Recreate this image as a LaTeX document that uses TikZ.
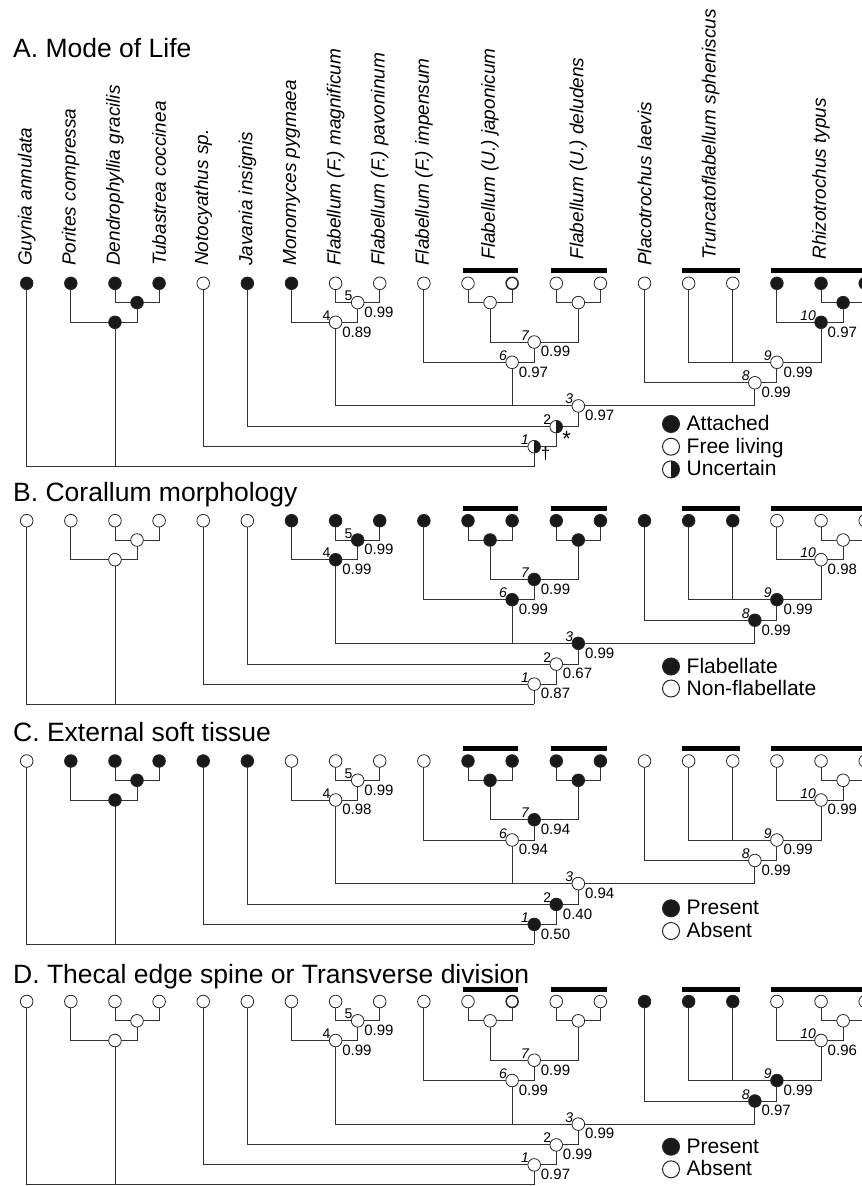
\documentclass[tikz,border=0pt]{standalone}
\usepackage{fontspec}
\setmainfont{Liberation Sans}
\tikzset{
  edge/.style={draw=black!80, line width=0.9pt},
  nd/.style={circle, inner sep=0pt, minimum size=12.6pt, line width=0.8pt, draw=black!85},
  stF/.style={nd, fill=black!90},
  stO/.style={nd, fill=white},
  stB/.style={nd, fill=white, line width=1.5pt, minimum size=12pt},
  stH/.style={nd, fill=white, path picture={\fill[black!90] (path picture bounding box.north) rectangle (path picture bounding box.south east);}},
  lgF/.style={stF, minimum size=17pt, line width=1pt},
  lgO/.style={stO, minimum size=17pt, line width=1pt},
  lgH/.style={stH, minimum size=17pt, line width=1pt},
  taxon/.style={rotate=90, anchor=west, inner sep=0pt, font=\fontsize{19}{19}\selectfont\itshape},
  ttl/.style={anchor=base west, inner sep=0pt, font=\fontsize{26.5}{26.5}\selectfont},
  val/.style={anchor=base west, inner sep=0pt, font=\fontsize{15}{15}\selectfont},
  num/.style={anchor=base east, inner sep=0pt, font=\fontsize{14}{14}\selectfont\itshape},
  numu/.style={anchor=base east, inner sep=0pt, font=\fontsize{14}{14}\selectfont},
  legtxt/.style={anchor=base west, inner sep=0pt, font=\fontsize{21}{21}\selectfont},
  sym/.style={anchor=base, inner sep=0pt, font=\fontsize{17}{17}\selectfont},
  bigsym/.style={anchor=base, inner sep=0pt, font=\fontsize{22}{22}\selectfont},
  grpbar/.style={line width=5pt, draw=black},
}
% tree geometry of one panel: #1 prefix, #2 tip y
\newcommand{\treepanel}[2]{%
  \foreach \i/\xx in {0/26.7,1/70.83,2/114.96,3/159.09,4/203.22,5/247.35,6/291.48,7/335.61,8/379.74,9/423.87,10/468.0,11/512.13,12/556.26,13/600.39,14/644.52,15/688.65,16/732.78,17/776.91,18/821.04,19/865.17}
    \coordinate (#1-t\i) at (\xx,#2);
  \coordinate (#1-nDT) at (137.03,{#2+19.3});
  \coordinate (#1-nPor) at (114.96,{#2+39});
  \coordinate (#1-n5) at (357.68,{#2+19.3});
  \coordinate (#1-n4) at (335.61,{#2+39});
  \coordinate (#1-nJ) at (490.07,{#2+19.3});
  \coordinate (#1-nD) at (578.33,{#2+19.3});
  \coordinate (#1-n7) at (534.2,{#2+58.7});
  \coordinate (#1-n6) at (512.13,{#2+79});
  \coordinate (#1-nR) at (843.1,{#2+19.3});
  \coordinate (#1-n10) at (821.04,{#2+39});
  \coordinate (#1-n9) at (776.91,{#2+79});
  \coordinate (#1-n8) at (754.85,{#2+99.5});
  \coordinate (#1-n3) at (578.33,{#2+122.6});
  \coordinate (#1-n2) at (556.26,{#2+143.4});
  \coordinate (#1-n1) at (534.2,{#2+163.4});
  \coordinate (#1-nroot) at (534.2,{#2+183.4});
  \foreach \a/\b in {t2/nDT,t3/nDT,t1/nPor,nDT/nPor,t7/n5,t8/n5,t6/n4,n5/n4,t10/nJ,t11/nJ,t12/nD,t13/nD,nJ/n7,nD/n7,t9/n6,n7/n6,t18/nR,t19/nR,t17/n10,nR/n10,t15/n9,t16/n9,n10/n9,t14/n8,n9/n8,n4/n3,n6/n3,n8/n3,t5/n2,n3/n2,t4/n1,n2/n1,t0/nroot,nPor/nroot,n1/nroot}
    \draw[edge] (#1-\a) |- (#1-\b);
  \coordinate (#1-b1l) at (462.5,{#2-12.5});
  \coordinate (#1-b1r) at (517.5,{#2-12.5});
  \coordinate (#1-b2l) at (551,{#2-12.5});
  \coordinate (#1-b2r) at (606.5,{#2-12.5});
  \coordinate (#1-b3l) at (682,{#2-12.5});
  \coordinate (#1-b3r) at (739.5,{#2-12.5});
  \coordinate (#1-b4l) at (771,{#2-12.5});
  \coordinate (#1-b4r) at (875,{#2-12.5});
  \foreach \k in {1,2,3,4} \draw[grpbar] (#1-b\k l) -- (#1-b\k r);
}
% states: #1 prefix, #2 tip styles, #3 internal name/style
\newcommand{\states}[3]{%
  \foreach \s [count=\i from 0] in {#2} \node[st\s] (#1-c\i) at (#1-t\i) {};
  \foreach \nm/\s in {#3} \node[st\s] (#1-c\nm) at (#1-n\nm) {};
  \foreach \nm/\sty in {1/num,2/numu,3/num,4/numu,5/numu,6/num,7/num,8/num,9/num,10/num}
    \path (#1-n\nm) ++(-5,-2) node[\sty] (#1-k\nm) {\nm};
}
\newcommand{\vals}[2]{%
  \foreach \nm/\v in {#2} \path (#1-n\nm) ++(6.5,14.8) node[val] (#1-v\nm) {\v};
}
\begin{document}
\begin{tikzpicture}[x=1pt,y=-1pt]
\useasboundingbox (0,0) rectangle (862,1186);
\clip (0,0) rectangle (862,1186);
\fill[white] (0,0) rectangle (862,1186);

% ---------- Panel A ----------
\node[ttl] (A-title) at (13,57) {A. Mode of Life};
\treepanel{A}{283.3}
\foreach \i/\nm in {0/Guynia annulata,1/Porites compressa,2/Dendrophyllia gracilis,3/Tubastrea coccinea,4/Notocyathus sp.,5/Javania insignis,6/Monomyces pygmaea,7/Flabellum (F.) magnificum,8/Flabellum (F.) pavoninum,9/Flabellum (F.) impensum,14/Placotrochus laevis}
  \path (A-t\i) ++(0,-17.3) node[taxon] (A-lab\i) {\nm};
\path (A-nJ) ++(0,-43) node[taxon] (A-labJ) {Flabellum (U.) japonicum};
\path (A-nD) ++(0,-43) node[taxon] (A-labD) {Flabellum (U.) deludens};
\coordinate (A-trc) at (710.7,259.5);
\node[taxon] (A-labT) at (A-trc) {Truncatoflabellum spheniscus};
\path (A-n10) ++(0,-62.5) node[taxon] (A-labR) {Rhizotrochus typus};
\states{A}{F,F,F,F,O,F,F,O,O,O,O,B,O,O,O,O,O,F,F,F}{DT/F,Por/F,5/O,4/O,J/O,D/O,7/O,6/O,R/F,10/F,9/O,8/O,3/O,2/H,1/H}
\vals{A}{3/0.97,4/0.89,5/0.99,6/0.97,7/0.99,8/0.99,9/0.99,10/0.97}
\path (A-n2) ++(10.4,20) node[bigsym] (A-star) {*};
\path (A-n1) ++(11.5,12.5) node[sym] (A-dag) {†};
\node[lgF] (A-g1) at (671,424) {};
\node[lgO] (A-g2) at (671,446.7) {};
\node[lgH] (A-g3) at (671,469.4) {};
\path (A-g1) ++(15.5,6.5) node[legtxt] (A-g1t) {Attached};
\path (A-g2) ++(15.5,6.5) node[legtxt] (A-g2t) {Free living};
\path (A-g3) ++(15.5,6.5) node[legtxt] (A-g3t) {Uncertain};

% ---------- Panel B ----------
\node[ttl] (B-title) at (13,501.7) {B. Corallum morphology};
\treepanel{B}{520.7}
\states{B}{O,O,O,O,O,O,F,F,F,F,F,F,F,F,F,F,F,O,O,O}{DT/O,Por/O,5/F,4/F,J/F,D/F,7/F,6/F,R/O,10/O,9/F,8/F,3/F,2/O,1/O}
\vals{B}{1/0.87,2/0.67,3/0.99,4/0.99,5/0.99,6/0.99,7/0.99,8/0.99,9/0.99,10/0.98}
\node[lgF] (B-g1) at (671,666.5) {};
\node[lgO] (B-g2) at (671,688.5) {};
\path (B-g1) ++(15.5,6.5) node[legtxt] (B-g1t) {Flabellate};
\path (B-g2) ++(15.5,6.5) node[legtxt] (B-g2t) {Non-flabellate};

% ---------- Panel C ----------
\node[ttl] (C-title) at (13,741.7) {C. External soft tissue};
\treepanel{C}{761}
\states{C}{O,F,F,F,F,F,O,O,O,O,F,F,F,F,O,O,O,O,O,O}{DT/F,Por/F,5/O,4/O,J/F,D/F,7/F,6/O,R/O,10/O,9/O,8/O,3/O,2/F,1/F}
\vals{C}{1/0.50,2/0.40,3/0.94,4/0.98,5/0.99,6/0.94,7/0.94,8/0.99,9/0.99,10/0.99}
\node[lgF] (C-g1) at (671,908.3) {};
\node[lgO] (C-g2) at (671,931) {};
\path (C-g1) ++(15.5,6.5) node[legtxt] (C-g1t) {Present};
\path (C-g2) ++(15.5,6.5) node[legtxt] (C-g2t) {Absent};

% ---------- Panel D ----------
\node[ttl] (D-title) at (13,983.3) {D. Thecal edge spine or Transverse division};
\treepanel{D}{1001.5}
\states{D}{O,O,O,O,O,O,O,O,O,O,O,B,O,O,F,F,F,O,O,O}{DT/O,Por/O,5/O,4/O,J/O,D/O,7/O,6/O,R/O,10/O,9/F,8/F,3/O,2/O,1/O}
\vals{D}{1/0.97,2/0.99,3/0.99,4/0.99,5/0.99,6/0.99,7/0.99,8/0.97,9/0.99,10/0.96}
\node[lgF] (D-g1) at (671,1146.7) {};
\node[lgO] (D-g2) at (671,1169.3) {};
\path (D-g1) ++(15.5,6.5) node[legtxt] (D-g1t) {Present};
\path (D-g2) ++(15.5,6.5) node[legtxt] (D-g2t) {Absent};
\end{tikzpicture}
\end{document}
